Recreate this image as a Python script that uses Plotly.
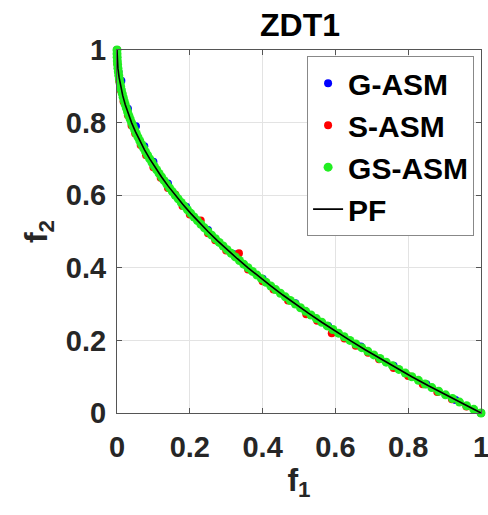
import plotly.graph_objects as go

# ---- data ----
pf_f1 = [0.0, 0.000625, 0.0025, 0.005625, 0.01, 0.015625, 0.0225, 0.030625, 0.04, 0.050625,
         0.0625, 0.075625, 0.09, 0.105625, 0.1225, 0.140625, 0.16, 0.180625, 0.2025, 0.225625,
         0.25, 0.275625, 0.3025, 0.330625, 0.36, 0.390625, 0.4225, 0.455625, 0.49, 0.525625,
         0.5625, 0.600625, 0.64, 0.680625, 0.7225, 0.765625, 0.81, 0.855625, 0.9025, 0.950625, 1.0]
pf_f2 = [1.0, 0.975, 0.95, 0.925, 0.9, 0.875, 0.85, 0.825, 0.8, 0.775,
         0.75, 0.725, 0.7, 0.675, 0.65, 0.625, 0.6, 0.575, 0.55, 0.525,
         0.5, 0.475, 0.45, 0.425, 0.4, 0.375, 0.35, 0.325, 0.3, 0.275,
         0.25, 0.225, 0.2, 0.175, 0.15, 0.125, 0.1, 0.075, 0.05, 0.025, 0.0]

g_f1 = [0.0, 0.004, 0.012, 0.03, 0.052, 0.075, 0.1, 0.14, 0.19, 0.25, 0.32, 0.4,
        0.49, 0.58, 0.67, 0.76, 0.85, 0.93, 1.0]
g_f2 = [1.0, 0.94, 0.915, 0.838, 0.79, 0.735, 0.692, 0.632, 0.568, 0.504, 0.438, 0.37,
        0.302, 0.24, 0.183, 0.13, 0.079, 0.036, 0.0]

s_f1 = [0.0, 0.001, 0.006, 0.01, 0.018, 0.03, 0.04, 0.05, 0.065, 0.08, 0.1, 0.12, 0.14,
        0.16, 0.18, 0.2, 0.23, 0.25, 0.27, 0.3, 0.335, 0.36, 0.4, 0.43, 0.47, 0.52, 0.55,
        0.59, 0.625, 0.656, 0.69, 0.72, 0.76, 0.8, 0.84, 0.88, 0.92, 0.96, 1.0]
s_f2 = [1.0, 0.962, 0.915, 0.89, 0.858, 0.82, 0.792, 0.77, 0.738, 0.71, 0.677, 0.648, 0.62,
        0.602, 0.57, 0.547, 0.53, 0.495, 0.476, 0.448, 0.44, 0.395, 0.363, 0.34, 0.31, 0.272, 0.254,
        0.22, 0.205, 0.185, 0.166, 0.148, 0.124, 0.102, 0.079, 0.058, 0.038, 0.018, 0.0]

gs_f1 = [0.0, 0.0001, 0.0004, 0.0009, 0.0016, 0.0025, 0.0036, 0.0049, 0.0064, 0.0081,
         0.01, 0.0121, 0.0144, 0.0169, 0.0196, 0.0225, 0.0256, 0.0289, 0.0324, 0.0361,
         0.04, 0.0441, 0.0484, 0.0529, 0.0576, 0.0625, 0.0676, 0.0729, 0.0784, 0.0841,
         0.09, 0.0961, 0.1024, 0.1089, 0.1156, 0.1225, 0.1296, 0.1369, 0.1444, 0.1521,
         0.16, 0.1681, 0.1764, 0.1849, 0.1936, 0.2025, 0.2116, 0.2209, 0.2304, 0.2401,
         0.25, 0.2601, 0.2704, 0.2809, 0.2916, 0.3025, 0.3136, 0.3249, 0.3364, 0.3481,
         0.36, 0.3721, 0.3844, 0.3969, 0.4096, 0.4225, 0.4356, 0.4489, 0.4624, 0.4761,
         0.49, 0.5041, 0.5184, 0.5329, 0.5476, 0.5625, 0.5776, 0.5929, 0.6084, 0.6241,
         0.64, 0.6561, 0.6724, 0.6889, 0.7056, 0.7225, 0.7396, 0.7569, 0.7744, 0.7921,
         0.81, 0.8281, 0.8464, 0.8649, 0.8836, 0.9025, 0.9216, 0.9409, 0.9604, 0.9801, 1.0]
gs_f2 = [1.0, 0.99, 0.98, 0.97, 0.96, 0.95, 0.94, 0.93, 0.92, 0.91,
         0.9, 0.89, 0.88, 0.87, 0.86, 0.85, 0.84, 0.83, 0.82, 0.81,
         0.8, 0.79, 0.78, 0.77, 0.76, 0.75, 0.74, 0.73, 0.72, 0.71,
         0.7, 0.69, 0.68, 0.67, 0.66, 0.65, 0.64, 0.63, 0.62, 0.61,
         0.6, 0.59, 0.58, 0.57, 0.56, 0.55, 0.54, 0.53, 0.52, 0.51,
         0.5, 0.49, 0.48, 0.47, 0.46, 0.45, 0.44, 0.43, 0.42, 0.41,
         0.4, 0.39, 0.38, 0.37, 0.36, 0.35, 0.34, 0.33, 0.32, 0.31,
         0.3, 0.29, 0.28, 0.27, 0.26, 0.25, 0.24, 0.23, 0.22, 0.21,
         0.2, 0.19, 0.18, 0.17, 0.16, 0.15, 0.14, 0.13, 0.12, 0.11,
         0.1, 0.09, 0.08, 0.07, 0.06, 0.05, 0.04, 0.03, 0.02, 0.01, 0.0]

tick_vals = [0, 0.2, 0.4, 0.6, 0.8, 1]
tick_text = ["0", "0.2", "0.4", "0.6", "0.8", "1"]

FONT = "Liberation Sans, Arial, sans-serif"
TXT = "#262626"

fig = go.Figure()
fig.add_trace(go.Scatter(x=g_f1, y=g_f2, mode="markers", name="G-ASM", legendgroup="a",
                         marker=dict(color="#0000ff", size=8), cliponaxis=False))
fig.add_trace(go.Scatter(x=s_f1, y=s_f2, mode="markers", name="S-ASM", legendgroup="b",
                         marker=dict(color="#ff0000", size=8), cliponaxis=False))
fig.add_trace(go.Scatter(x=gs_f1, y=gs_f2, mode="markers", name="GS-ASM", legendgroup="c",
                         marker=dict(color="#22ee22", size=9), cliponaxis=False))
fig.add_trace(go.Scatter(x=pf_f1, y=pf_f2, mode="lines", name="PF", legendgroup="d",
                         line=dict(color="#000000", width=1.6), cliponaxis=False))

axis_common = dict(
    range=[0, 1], tickvals=tick_vals, ticktext=tick_text,
    showgrid=True, gridcolor="#e3e3e3", gridwidth=1,
    showline=True, linecolor="#555555", linewidth=1, mirror="allticks",
    ticks="inside", ticklen=5, tickcolor="#555555",
    tickfont=dict(family=FONT, size=29, color=TXT, weight="bold"),
    ticklabeloverflow="allow", automargin=False,
    zeroline=False, fixedrange=True,
)

fig.update_layout(
    width=488, height=515,
    margin=dict(l=117, r=7, t=50, b=102, autoexpand=False),
    paper_bgcolor="white", plot_bgcolor="white",
    title=dict(text="ZDT1", x=300 / 488, xanchor="center", y=1 - 25 / 515, yanchor="middle",
               font=dict(family=FONT, size=32, color="#000000", weight="bold")),
    xaxis=dict(**axis_common, ticklabelstandoff=8,
               title=dict(text="f<sub>1</sub>", standoff=6,
                          font=dict(family=FONT, size=32, color=TXT, weight="bold"))),
    yaxis=dict(**axis_common, ticklabelstandoff=4,
               title=dict(text="f<sub>2</sub>", standoff=8,
                          font=dict(family=FONT, size=32, color=TXT, weight="bold"))),
    legend=dict(x=0.981, xanchor="right", y=0.983, yanchor="top",
                bgcolor="white", bordercolor="#888888", borderwidth=1,
                font=dict(family=FONT, size=30, color="#000000", weight="bold"),
                tracegroupgap=0, itemsizing="trace"),
    showlegend=True,
)

fig.write_html("out.html")
